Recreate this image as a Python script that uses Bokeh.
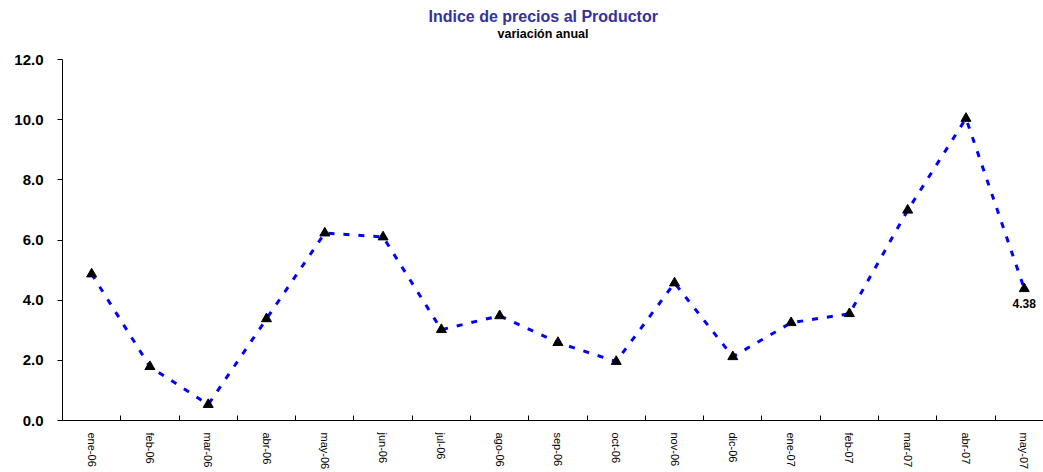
from bokeh.plotting import figure
from bokeh.models import FixedTicker, Range1d, Title, ColumnDataSource, PrintfTickFormatter
from bokeh.core.properties import value
from bokeh.embed import file_html
from bokeh.resources import INLINE

# data
months = ["ene-06", "feb-06", "mar-06", "abr-06", "may-06", "jun-06", "jul-06", "ago-06",
          "sep-06", "oct-06", "nov-06", "dic-06", "ene-07", "feb-07", "mar-07", "abr-07", "may-07"]
ipp = [4.87, 1.79, 0.53, 3.38, 6.23, 6.10, 3.02, 3.48, 2.59, 1.96, 4.57, 2.12, 3.25, 3.55, 6.99, 10.04, 4.38]
y_ticks = [0, 2, 4, 6, 8, 10, 12]
last_label = ["4.38"]

title_text = "Indice de precios al Productor"
subtitle_text = "variación anual"

xs = list(range(len(months)))
src = ColumnDataSource(dict(x=xs, y=ipp))

p = figure(width=1043, height=472, output_backend="svg", toolbar_location=None,
           x_range=Range1d(-0.5, 16.33), y_range=Range1d(0, 12),
           min_border_left=62, min_border_right=0, min_border_top=59, min_border_bottom=51)
p.outline_line_color = None
p.xgrid.grid_line_color = None
p.ygrid.grid_line_color = None
p.background_fill_color = "white"
p.border_fill_color = "white"

p.line("x", "y", source=src, line_color="#0000FF", line_width=3, line_dash="6 9")
p.scatter("x", "y", source=src, marker="triangle", size=10, fill_color="black", line_color="black")

p.text(x=[xs[-1]], y=[ipp[-1]], text=last_label, text_align="center", text_baseline="middle",
       y_offset=15, text_font=value("Liberation Sans"), text_font_style="bold",
       text_font_size="12px", text_color="black")

# x axis
xa = p.xaxis[0]
xa.ticker = FixedTicker(ticks=xs, minor_ticks=[i + 0.5 for i in range(-1, len(months))])
xa.major_label_overrides = {i: m for i, m in enumerate(months)}
xa.major_label_orientation = "vertical"
xa.major_tick_line_color = None
xa.minor_tick_line_color = "black"
xa.minor_tick_in = 5
xa.minor_tick_out = 0
xa.major_label_standoff = 6
xa.major_label_text_font = "Liberation Sans"
xa.major_label_text_font_size = "11px"
xa.major_label_text_color = "black"
xa.axis_line_color = "black"

# y axis
ya = p.yaxis[0]
ya.ticker = FixedTicker(ticks=y_ticks)
ya.formatter = PrintfTickFormatter(format="%.1f")
ya.major_tick_in = 0
ya.major_tick_out = 5
ya.minor_tick_line_color = None
ya.major_label_standoff = 14
ya.major_label_text_font = "Liberation Sans"
ya.major_label_text_font_style = "bold"
ya.major_label_text_font_size = "15px"
ya.major_label_text_color = "black"
ya.axis_line_color = "black"

p.title.visible = False
# spacer nearest the frame, then subtitle, then main title
p.add_layout(Title(text=" ", align="left", text_font_size="2px", standoff=15), "above")
p.add_layout(Title(text=subtitle_text, align="left", offset=435, text_font="Liberation Sans",
                   text_font_style="bold", text_font_size="12.5px", text_color="black",
                   standoff=0), "above")
p.add_layout(Title(text=title_text, align="left", offset=366, text_font="Liberation Sans",
                   text_font_style="bold", text_font_size="16px", text_color="#333399",
                   standoff=0), "above")

open("out.html", "w").write(file_html(p, INLINE))
